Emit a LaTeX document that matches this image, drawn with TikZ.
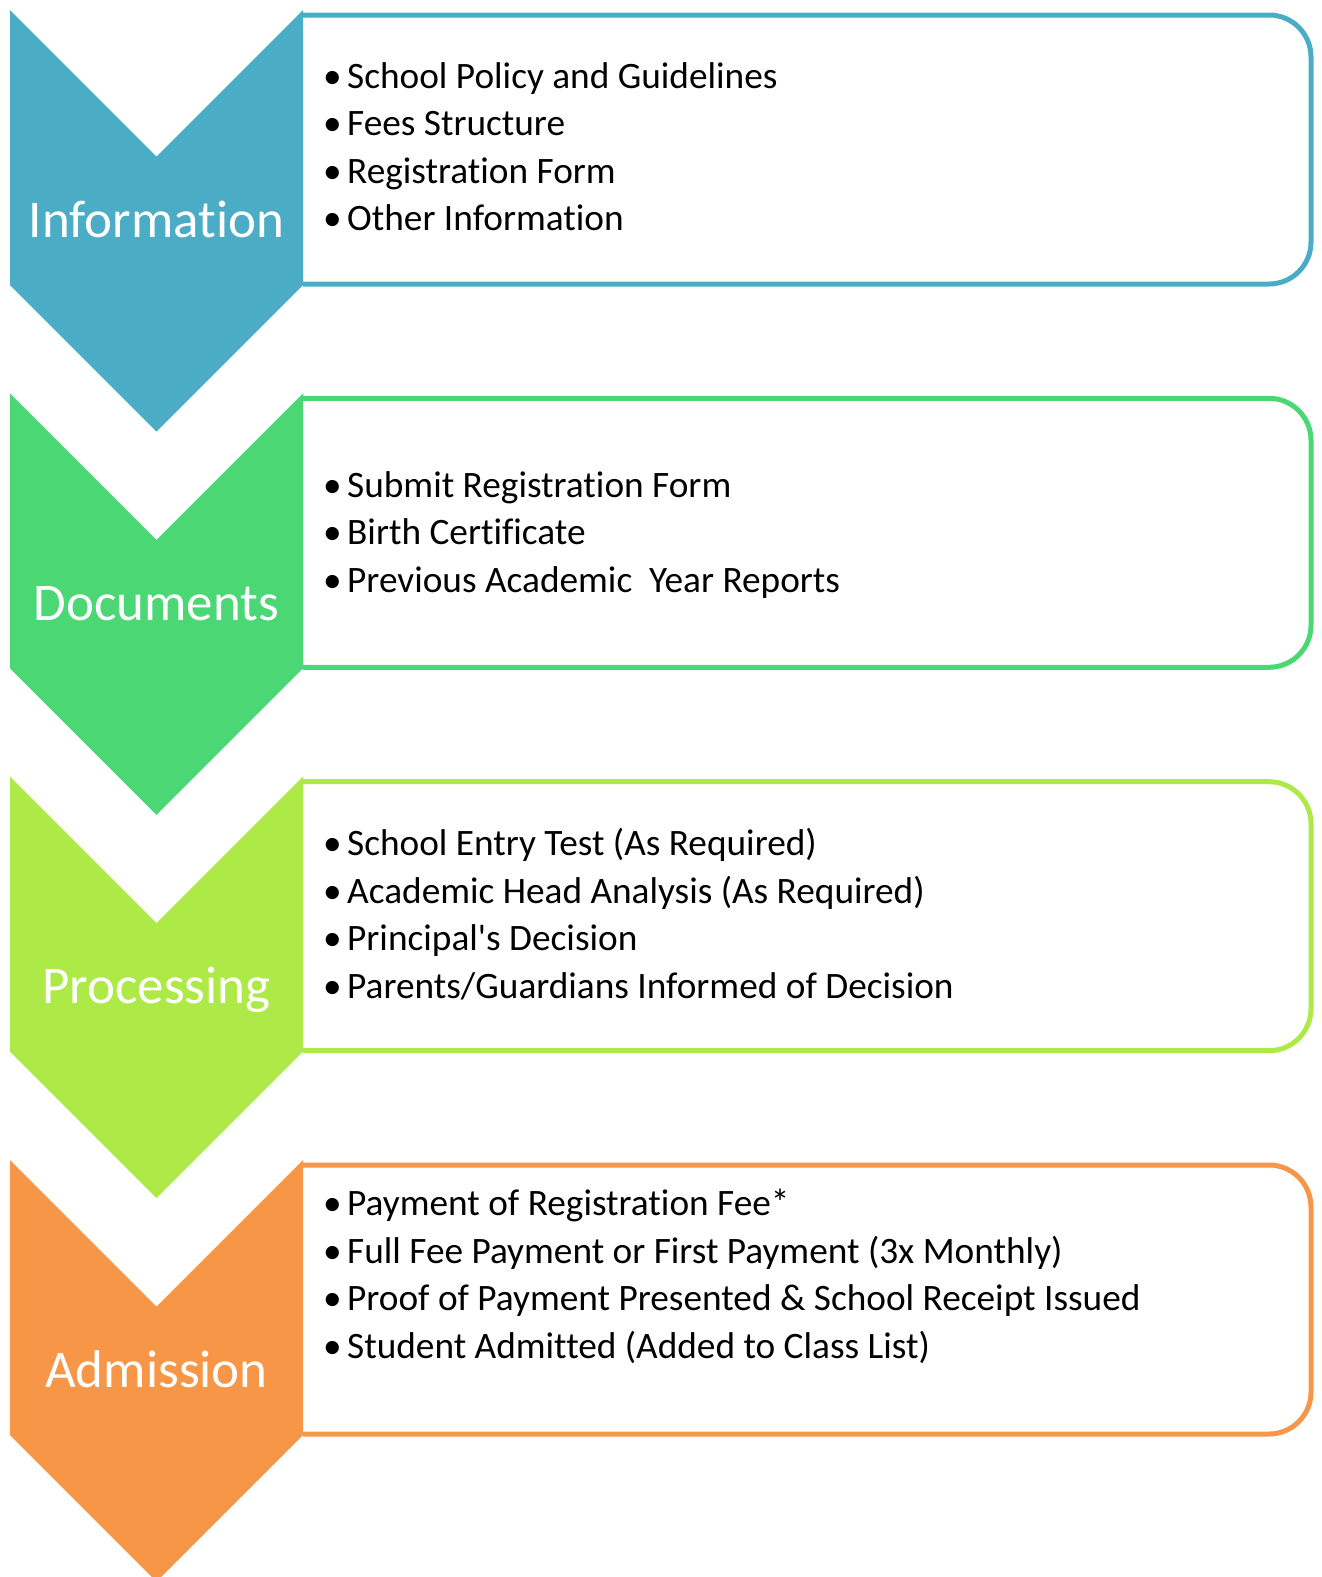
\documentclass[tikz,border=0pt]{standalone}
\usepackage{fontspec}
\setmainfont{Carlito}[Ligatures=NoCommon]
\definecolor{infoblue}{HTML}{4BACC6}
\definecolor{docgreen}{HTML}{4AD774}
\definecolor{proclime}{HTML}{ADEA48}
\definecolor{admorange}{HTML}{F79646}
\newcommand{\bul}{\makebox[24pt][l]{\textbullet}}
\begin{document}
\begin{tikzpicture}[x=1pt,y=-1pt,
    box/.style={draw=#1,line width=5pt,rounded corners=42pt},
    stage/.style={text=white,font=\fontsize{53}{60}\selectfont,anchor=base,inner sep=0pt},
    item/.style={anchor=base west,inner sep=0pt,font=\fontsize{37.3}{44}\selectfont}]
    \path[use as bounding box,clip] (0,0) rectangle (1322,1577);
    \def\lx{10}
    \def\rx{303}
    \def\mx{156.5}
    \def\dy{47.5}

    % boxes and chevrons
    \foreach \col/\ytop/\nm/\lab in {infoblue/10/info/Information,docgreen/393.3/docs/Documents,proclime/776.7/proc/Processing,admorange/1160/adm/Admission}{
        \draw[box=\col] (\rx,\ytop+5) -- (1311,\ytop+5) -- (1311,\ytop+274) -- (\rx,\ytop+274);
        \fill[\col] (\lx,\ytop) -- (\mx,\ytop+146.5) -- (\rx,\ytop) -- (\rx,\ytop+275)
            -- (\mx,\ytop+421.5) -- (\lx,\ytop+275) -- cycle;
        \node[stage] (\nm) at (\mx,\ytop+227) {\lab};
    }

    % bullet lists
    \foreach \txt [count=\i] in {School Policy and Guidelines,Fees Structure,Registration Form,Other Information}
        \node[item] (info\i) at (323,{88+\dy*(\i-1)}) {\bul\txt};
    \foreach \txt [count=\i] in {Submit Registration Form,Birth Certificate,Previous Academic\ \ Year Reports}
        \node[item] (docs\i) at (323,{497+\dy*(\i-1)}) {\bul\txt};
    \foreach \txt [count=\i] in {School Entry Test (As Required),Academic Head Analysis (As Required),Principal\textquotesingle s Decision,Parents/Guardians Informed of Decision}
        \node[item] (proc\i) at (323,{855.5+\dy*(\i-1)}) {\bul\txt};
    \foreach \txt [count=\i] in {Payment of Registration Fee*,Full Fee Payment or First Payment (3x Monthly),Proof of Payment Presented \& School Receipt Issued,Student Admitted (Added to Class List)}
        \node[item] (adm\i) at (323,{1215.5+\dy*(\i-1)}) {\bul\txt};
\end{tikzpicture}
\end{document}
